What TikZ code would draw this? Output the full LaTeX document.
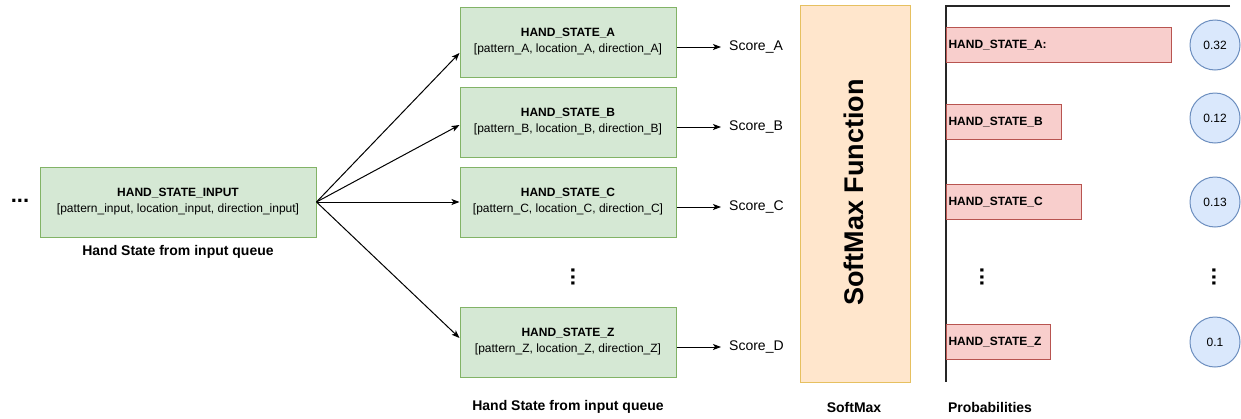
\documentclass[tikz,border=0pt]{standalone}
\usepackage{fontspec}
\setmainfont{Liberation Sans}
\usetikzlibrary{arrows.meta,calc}
\definecolor{gfill}{HTML}{D5E8D4}
\definecolor{gline}{HTML}{82B366}
\definecolor{rfill}{HTML}{F8CECC}
\definecolor{rline}{HTML}{B85450}
\definecolor{bfill}{HTML}{DAE8FC}
\definecolor{bline}{HTML}{6C8EBF}
\definecolor{ofill}{HTML}{FFE6CC}
\definecolor{oline}{HTML}{E6C060}
\tikzset{
  statebox/.style={draw=gline, fill=gfill, line width=1pt, minimum height=70pt, align=center, inner sep=0pt, font={\fontsize{12}{16}\selectfont}},
  scorelbl/.style={anchor=west, inner xsep=8pt, inner ysep=0pt, font={\fontsize{14}{16}\selectfont}},
  arr/.style={-{Stealth[length=8pt,width=6pt,inset=2pt]}, line width=1pt, black},
  barbox/.style={draw=rline, fill=rfill, line width=1pt, anchor=west, align=left, minimum height=35pt, inner xsep=2pt, inner ysep=0pt, font={\fontsize{12}{14}\selectfont\bfseries}},
  probc/.style={circle, draw=bline, fill=bfill, line width=1pt, minimum size=50pt, inner sep=0pt, font={\fontsize{12}{14}\selectfont}},
  caption/.style={font={\fontsize{14}{16}\selectfont\bfseries}, inner sep=0pt},
  dotsv/.style={rotate=90, font={\fontsize{22}{24}\selectfont\bfseries}, inner sep=0pt},
  axisline/.style={line width=2pt, draw=black!85},
}
\begin{document}
\begin{tikzpicture}[x=1pt, y=-1pt]
\useasboundingbox (0,0) rectangle (1241,418);

% input
\node[font={\fontsize{22}{24}\selectfont\bfseries}, inner sep=0pt] (ldots) at (20,201) {...};
\node[statebox, minimum width=276pt] (in) at (178,202) {\textbf{HAND\_STATE\_INPUT}\\{[}pattern\_input, location\_input, direction\_input]};
\node[caption] (cap1) at (178,252) {Hand State from input queue};

% state boxes
\node[statebox, minimum width=216pt] (a) at (568,42) {\textbf{HAND\_STATE\_A}\\{[}pattern\_A, location\_A, direction\_A]};
\node[statebox, minimum width=216pt] (b) at (568,122) {\textbf{HAND\_STATE\_B}\\{[}pattern\_B, location\_B, direction\_B]};
\node[statebox, minimum width=216pt] (c) at (568,202) {\textbf{HAND\_STATE\_C}\\{[}pattern\_C, location\_C, direction\_C]};
\node[statebox, minimum width=216pt] (z) at (568,342) {\textbf{HAND\_STATE\_Z}\\{[}pattern\_Z, location\_Z, direction\_Z]};
\node[dotsv] (mdots) at (573,277) {...};
\node[caption] (cap2) at (568,407) {Hand State from input queue};

% fan-out arrows
\draw[arr] (in.east) -- ($(a.west)+(0,11)$);
\draw[arr] (in.east) -- ($(b.west)+(0,3)$);
\draw[arr] (in.east) -- (c.west);
\draw[arr] (in.east) -- ($(z.west)+(0,-4)$);

% scores
\node[scorelbl] (sa) at (721,47) {Score\_A};
\node[scorelbl] (sb) at (721,127) {Score\_B};
\node[scorelbl] (sc) at (721,207) {Score\_C};
\node[scorelbl] (sd) at (721,347) {Score\_D};
\draw[arr] (a.east |- sa.west) -- (sa.west);
\draw[arr] (b.east |- sb.west) -- (sb.west);
\draw[arr] (c.east |- sc.west) -- (sc.west);
\draw[arr] (z.east |- sd.west) -- (sd.west);

% softmax
\node[draw=oline, fill=ofill, line width=1pt, minimum width=110pt, minimum height=377pt, inner sep=0pt] (sm) at (855,193.5) {};
\node[rotate=90, inner sep=0pt, font={\fontsize{27}{30}\selectfont\bfseries}] (smt) at (854,192.5) {SoftMax Function};
\node[caption] (cap3) at (854,407) {SoftMax};

% probabilities axis
\coordinate (ax0) at (946,6);
\coordinate (ax1) at (1230,6);
\coordinate (ax2) at (946,382);
\draw[axisline] (ax1) -- (ax0) -- (ax2);

\node[barbox, text width=221pt] (ba) at (946,45) {HAND\_STATE\_A:};
\node[barbox, text width=111pt] (bb) at (946,122) {HAND\_STATE\_B};
\node[barbox, text width=131pt] (bc) at (946,202) {HAND\_STATE\_C};
\node[barbox, text width=100pt] (bz) at (946,342) {HAND\_STATE\_Z};
\node[dotsv] (pdots) at (982,277) {...};

\node[probc] (pa) at (1215,45) {0.32};
\node[probc] (pb) at (1215,118) {0.12};
\node[probc] (pc) at (1215,202) {0.13};
\node[probc] (pz) at (1215,342) {0.1};
\node[dotsv] (cdots) at (1214,277) {...};

\node[caption] (cap4) at (990,407) {Probabilities};
\end{tikzpicture}
\end{document}
